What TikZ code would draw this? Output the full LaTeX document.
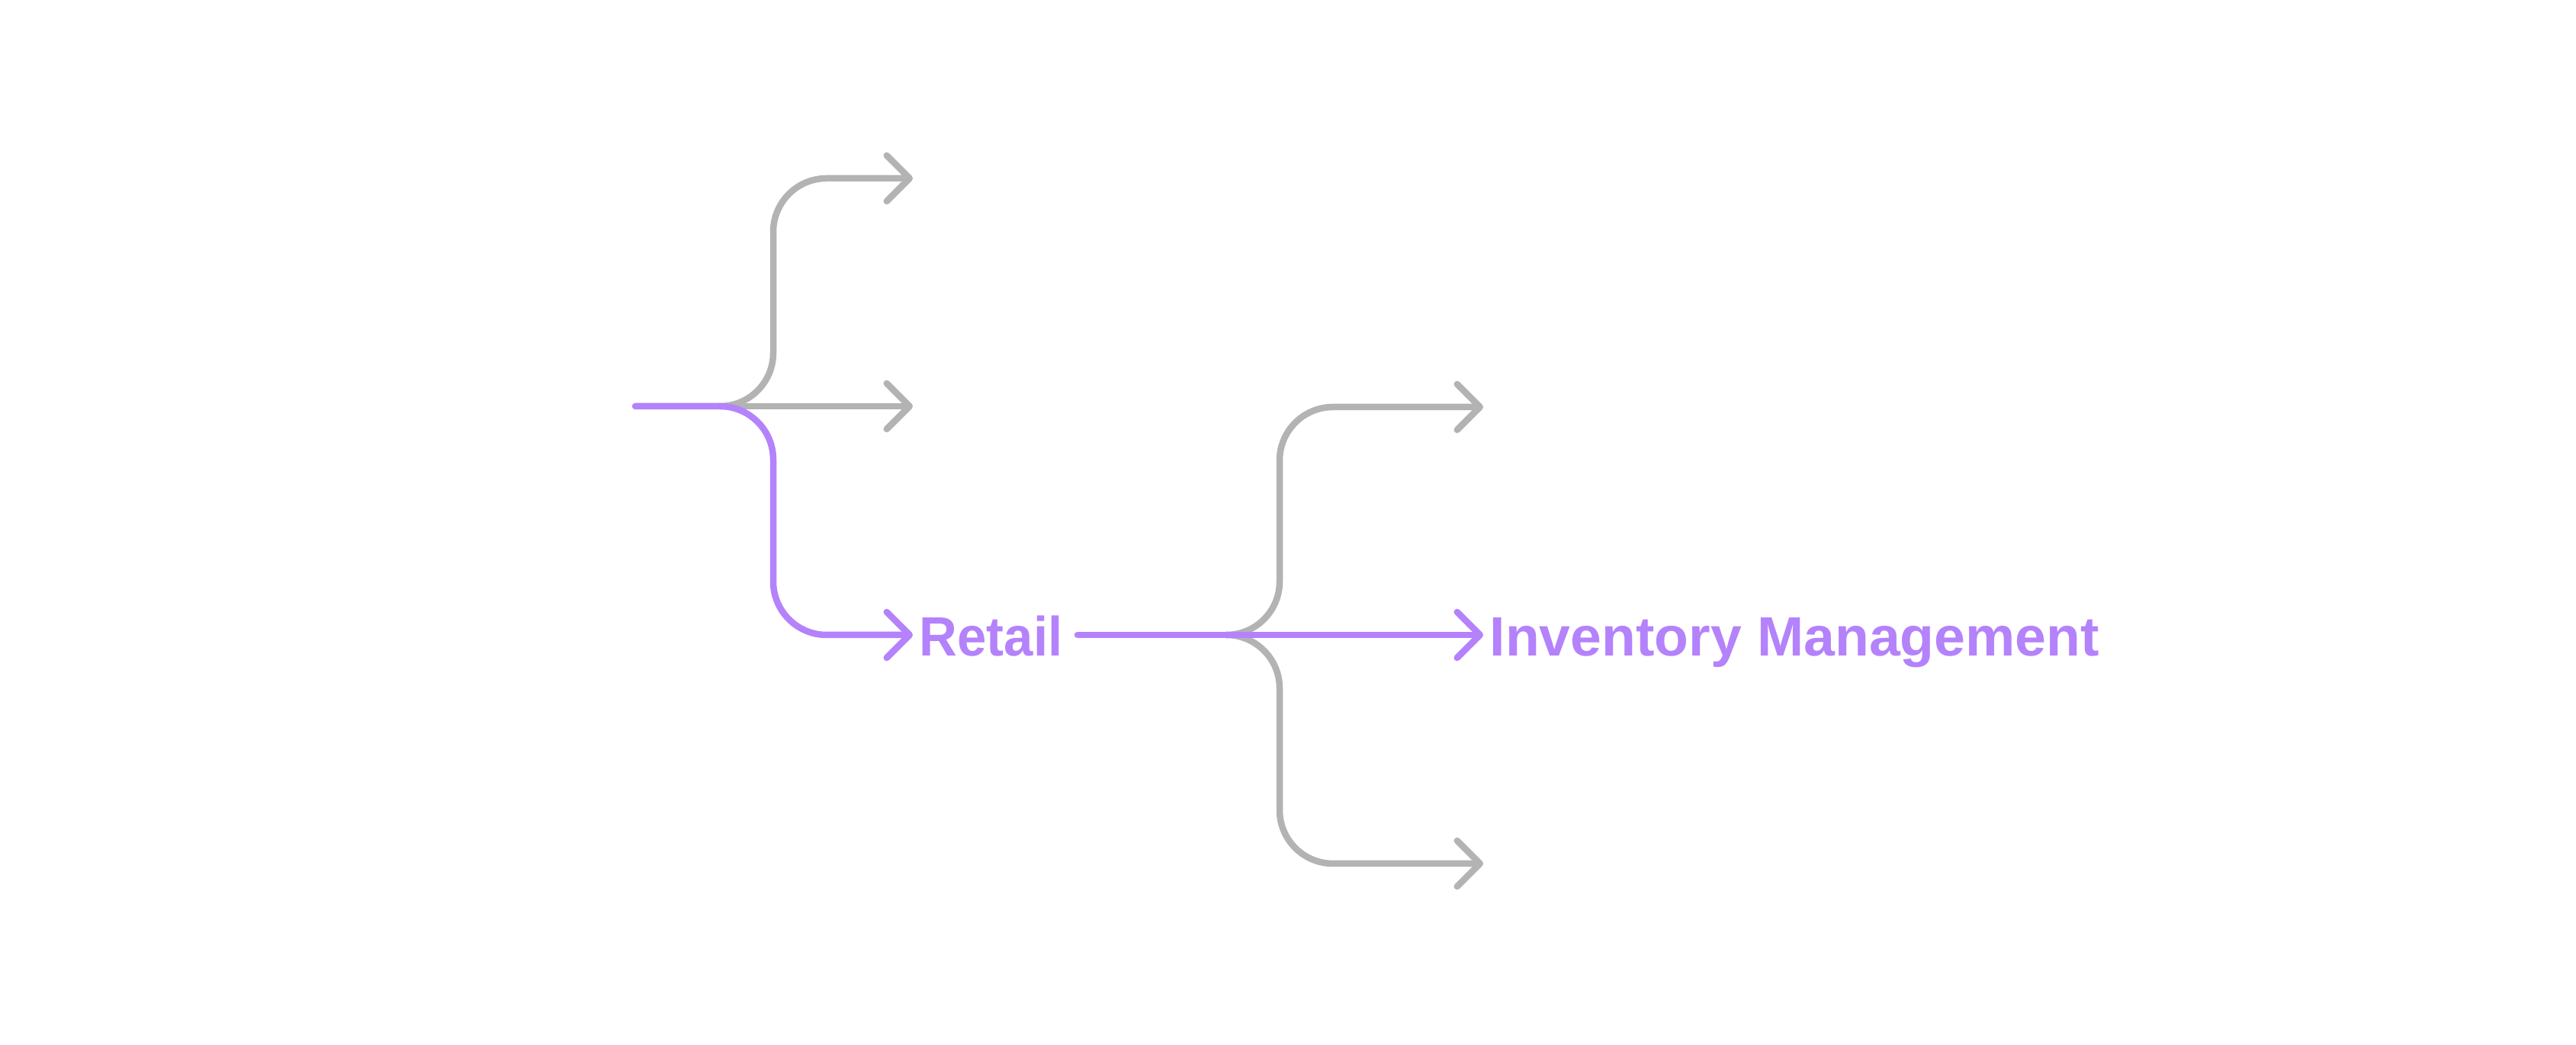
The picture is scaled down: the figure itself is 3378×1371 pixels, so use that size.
\documentclass[tikz,border=0pt]{standalone}
\usepackage{fontspec}
\setmainfont{Liberation Sans}
\usetikzlibrary{arrows.meta}
\definecolor{grayc}{HTML}{B3B3B3}
\definecolor{purp}{HTML}{B482FB}
\tikzset{
  conn/.style={line width=0.085cm, line cap=round, line join=round, rounded corners=0.7cm,
    -{Straight Barb[length=0.3cm,width=0.6cm,round]}},
  gr/.style={draw=grayc},
  pu/.style={draw=purp},
  lbl/.style={anchor=base west, inner sep=0pt, text=purp, font=\bfseries\fontsize{20.66pt}{24pt}\selectfont}
}
\begin{document}
\begin{tikzpicture}[x=0.01cm,y=-0.01cm]
\useasboundingbox (0,0) rectangle (3378,1371);
% coordinates
\coordinate (s0) at (833,533);
\coordinate (j1) at (943,533);
\coordinate (c1) at (1014,533);
\coordinate (t1) at (1197,234);
\coordinate (m1) at (1197,533);
\coordinate (b1) at (1197,833);
\coordinate (s2) at (1413,833);
\coordinate (j2) at (1608,833);
\coordinate (c2) at (1678,833);
\coordinate (t2) at (1945,534);
\coordinate (m2) at (1945,833);
\coordinate (b2) at (1945,1133);
% labels
\node[lbl] (retail) at (1205,861) {\scalebox{0.95}[1]{Retail}};
\node[lbl] (inv) at (1953,861) {\scalebox{1.01}[1]{Inventory Management}};
% gray branches
\draw[conn,gr] (j1) -- (c1) -- (c1 |- t1) -- (t1);
\draw[conn,gr] (j1) -- (m1);
\draw[conn,gr] (j2) -- (c2) -- (c2 |- t2) -- (t2);
\draw[conn,gr] (j2) -- (c2) -- (c2 |- b2) -- (b2);
% purple path
\draw[conn,pu] (s0) -- (c1) -- (c1 |- b1) -- (b1);
\draw[conn,pu] (s2) -- (m2);
\end{tikzpicture}
\end{document}
